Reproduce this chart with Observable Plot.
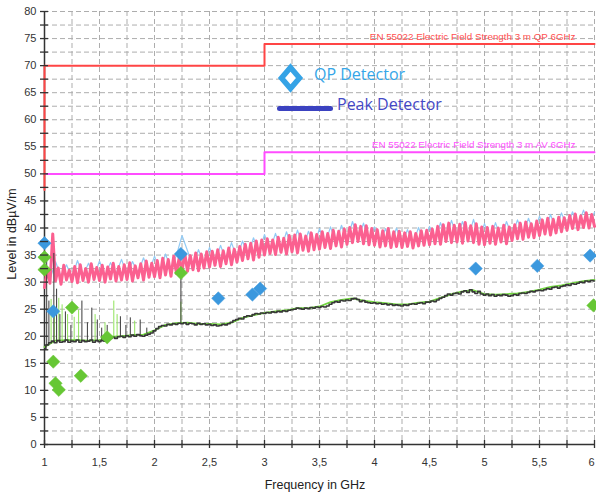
<!DOCTYPE html>
<html>
<head>
<meta charset="utf-8">
<script src="https://cdn.jsdelivr.net/npm/d3@7"></script>
<script src="https://cdn.jsdelivr.net/npm/@observablehq/plot@0.6"></script>
<style>
  html, body { margin: 0; padding: 0; background: #fff; }
  #wrap { position: relative; width: 596px; height: 495px; overflow: hidden; }
  .ov { position: absolute; white-space: nowrap; }
</style>
</head>
<body>
<div id="wrap">
  <div id="chart"></div>
  <div class="ov" id="ytitle" style="left:12px; top:234px; transform:translate(-50%,-50%) rotate(-90deg); font:12.5px 'Liberation Sans Narrow','Liberation Sans',Arial,sans-serif; color:#222;">Level in dBµV/m</div>
  <div class="ov" id="xtitle" style="left:315px; top:485px; transform:translate(-50%,-50%); font:12.5px 'Liberation Sans Narrow','Liberation Sans',Arial,sans-serif; color:#222;">Frequency in GHz</div>
  <svg class="ov" style="left:277px; top:63px;" width="27" height="30"><polygon points="13.5,4.5 22.5,15 13.5,25.5 4.5,15" fill="#fff" stroke="#35a3e6" stroke-width="5.5" stroke-linejoin="miter"/></svg>
  <div class="ov" style="left:314px; top:65px; font:16px 'Open Sans','Noto Sans',sans-serif; line-height:18px; color:#35a6e8;">QP Detector</div>
  <div class="ov" style="left:277px; top:106px; width:56px; height:5px; border-radius:3px; background:#3b42c0;"></div>
  <div class="ov" style="left:337px; top:95px; font:16px 'Open Sans','Noto Sans',sans-serif; line-height:18px; color:#4448c6;">Peak Detector</div>
</div>
<script>
// ---------- data ----------
const xMajorTicks = [1, 1.5, 2, 2.5, 3, 3.5, 4, 4.5, 5, 5.5, 6];
const xMinorTicks = [1, 1.25, 1.5, 1.75, 2, 2.25, 2.5, 2.75, 3, 3.25, 3.5, 3.75, 4, 4.25, 4.5, 4.75, 5, 5.25, 5.5, 5.75, 6];
const yMajorTicks = [0, 5, 10, 15, 20, 25, 30, 35, 40, 45, 50, 55, 60, 65, 70, 75, 80];
const yMinorTicks = [0, 2.5, 5, 7.5, 10, 12.5, 15, 17.5, 20, 22.5, 25, 27.5, 30, 32.5, 35, 37.5, 40, 42.5, 45, 47.5, 50, 52.5, 55, 57.5, 60, 62.5, 65, 67.5, 70, 72.5, 75, 77.5, 80];

const qpLimitFreq = [1, 1, 3, 3, 6];
const qpLimitLevel = [47, 70, 70, 74, 74];
const qpLimitLabel = "EN 55022 Electric Field Strength 3 m QP 6GHz";
const avLimitFreq = [1, 3, 3, 6];
const avLimitLevel = [50, 50, 54, 54];
const avLimitLabel = "EN 55022 Electric Field Strength 3 m AV 6GHz";

// swept traces (start frequency and step of each sweep, level readings)
const sweepStartGHz = 1;
const pinkStepGHz = 0.025;
const pinkLevels = [
  29.0, 32.4, 29.8, 38.9, 30.2, 32.6, 29.6, 33.1, 30.4, 32.2,
  30.1, 32.9, 29.9, 33.2, 30.3, 32.5, 30.0, 33.4, 30.5, 32.7,
  30.3, 33.1, 30.0, 32.8, 30.6, 33.5, 30.2, 32.9, 30.4, 33.2,
  30.5, 33.6, 30.2, 33.0, 30.8, 33.4, 30.4, 33.9, 30.9, 33.5,
  31.0, 34.0, 30.8, 34.4, 31.3, 34.2, 31.1, 34.8, 31.6, 34.6,
  31.9, 35.3, 32.0, 34.9, 32.3, 35.4, 32.1, 35.2, 32.6, 35.6,
  32.8, 35.7, 33.1, 36.0, 32.9, 35.8, 33.4, 36.3, 33.2, 36.1,
  33.7, 36.6, 34.0, 37.0, 34.3, 37.2, 34.1, 37.6, 34.6, 37.8,
  35.0, 38.0, 35.3, 37.8, 35.1, 38.3, 35.5, 38.1, 35.2, 38.6,
  35.6, 38.7, 35.4, 38.9, 35.9, 38.5, 35.7, 39.1, 36.0, 38.8,
  36.1, 39.3, 36.4, 39.0, 36.2, 39.6, 36.7, 39.4, 36.5, 39.8,
  37.0, 40.1, 37.3, 40.6, 37.5, 40.3, 37.1, 40.4, 36.9, 39.9,
  36.8, 39.7, 36.5, 39.5, 36.7, 39.9, 36.4, 39.3, 36.6, 39.4,
  36.4, 39.1, 36.6, 39.3, 36.3, 39.0, 36.7, 39.5, 36.8, 39.6,
  36.9, 39.8, 37.1, 40.3, 37.0, 40.6, 37.5, 40.9, 37.3, 40.5,
  37.4, 40.7, 37.2, 41.0, 37.6, 40.4, 37.3, 40.8, 37.0, 40.2,
  36.9, 40.1, 37.2, 40.3, 37.0, 40.0, 37.4, 40.5, 37.1, 40.2,
  37.7, 40.6, 38.0, 40.9, 37.9, 41.1, 38.3, 40.8, 38.2, 41.3,
  38.6, 41.5, 38.9, 41.8, 38.7, 41.6, 39.1, 42.0, 39.3, 41.9,
  39.6, 42.3, 39.9, 42.6, 39.7, 42.2, 40.1, 42.8, 40.0, 42.5,
  40.3
];
const blueStepGHz = 0.05;
const blueLevels = [
  33.0, 30.5, 33.8, 31.0, 33.2, 30.8, 34.0, 31.2, 33.5, 31.0,
  33.9, 31.2, 33.6, 31.5, 34.2, 31.3, 33.8, 31.6, 34.5, 31.8,
  34.8, 32.0, 35.2, 32.4, 35.0, 38.6, 35.8, 33.0, 36.0, 33.2,
  36.4, 33.6, 36.8, 34.0, 37.3, 34.4, 37.6, 35.0, 38.2, 35.4,
  38.8, 35.8, 39.0, 36.0, 39.3, 36.2, 39.6, 36.4, 39.4, 36.5,
  39.9, 36.9, 40.2, 37.2, 40.5, 37.6, 41.2, 37.8, 40.9, 37.5,
  40.2, 37.2, 39.9, 37.0, 40.0, 37.1, 39.7, 37.0, 40.1, 37.3,
  40.3, 37.6, 41.0, 38.0, 41.4, 38.2, 41.2, 38.0, 41.6, 37.9,
  40.8, 37.8, 41.0, 38.0, 41.2, 38.5, 41.5, 38.7, 41.8, 39.0,
  42.2, 39.3, 42.5, 39.7, 42.8, 40.1, 43.0, 40.4, 43.3, 40.6,
  42.9
];
const darkStepGHz = 0.025;
const darkLevels = [
  17.6, 18.4, 18.8, 19.1, 18.8, 19.2, 18.9, 19.0, 19.3, 18.9,
  19.1, 19.0, 19.3, 18.9, 19.2, 19.0, 19.1, 19.3, 18.9, 19.2,
  19.0, 19.2, 19.1, 19.4, 19.6, 19.8, 19.6, 19.9, 20.0, 19.8,
  20.1, 19.9, 20.2, 20.0, 20.3, 20.1, 20.0, 20.2, 20.4, 20.6,
  21.0, 21.4, 21.8, 22.0, 21.9, 22.2, 22.1, 22.3, 22.2, 22.4,
  22.3, 22.5, 22.2, 22.4, 22.3, 22.1, 22.4, 22.2, 22.3, 22.1,
  22.2, 22.0, 22.1, 21.9, 22.0, 22.2, 22.1, 22.3, 22.6, 22.9,
  23.1, 23.3, 23.2, 23.6, 23.8, 23.7, 24.0, 24.2, 24.1, 24.3,
  24.2, 24.4, 24.3, 24.5, 24.4, 24.6, 24.5, 24.7, 24.6, 24.8,
  24.9, 25.0, 25.2, 25.1, 25.0, 25.2, 25.1, 25.3, 25.2, 25.4,
  25.3, 25.5, 25.4, 25.6, 25.9, 26.2, 26.4, 26.3, 26.6, 26.5,
  26.7, 26.6, 26.9, 27.0, 26.8, 26.4, 26.6, 26.3, 26.2, 26.1,
  26.2, 26.0, 26.1, 25.9, 26.0, 25.8, 25.9, 25.7, 25.8, 25.7,
  25.6, 25.8, 25.7, 25.9, 26.0, 25.9, 26.1, 26.2, 26.0, 26.3,
  26.3, 26.5, 26.4, 26.7, 27.0, 27.2, 27.5, 27.8, 27.6, 27.9,
  28.0, 27.8, 28.2, 28.4, 28.1, 28.6, 28.2, 27.9, 28.3, 27.8,
  27.6, 27.8, 27.5, 27.7, 27.4, 27.6, 27.5, 27.7, 27.6, 27.4,
  27.5, 27.7, 27.6, 27.9, 28.0, 27.9, 28.1, 28.3, 28.2, 28.4,
  28.5, 28.4, 28.6, 28.8, 28.7, 29.0, 29.1, 28.9, 29.2, 29.3,
  29.5, 29.4, 29.7, 29.6, 29.8, 30.0, 29.9, 30.2, 30.1, 30.3,
  30.2
];
const greenStepGHz = 0.1;
const greenLevels = [
  18.0, 19.2, 19.3, 19.3, 19.2, 19.3, 19.9, 20.0, 20.2, 20.3,
  21.1, 22.1, 22.4, 22.5, 22.3, 22.3, 22.2, 22.5, 23.4, 23.9,
  24.3, 24.6, 24.8, 25.2, 25.2, 25.5, 26.3, 26.7, 27.0, 26.6,
  26.3, 26.1, 25.9, 25.9, 26.2, 26.4, 27.1, 27.8, 28.3, 28.5,
  27.8, 27.7, 27.8, 27.9, 28.2, 28.6, 29.1, 29.4, 29.8, 30.2,
  30.4
];

// narrow spikes on the low traces
const darkSpikeFreq = [1.02, 1.04, 1.085, 1.11, 1.14, 1.19, 1.24, 1.34, 1.39, 1.43, 1.48, 1.52, 1.57, 1.69, 1.74, 1.78, 1.87, 1.93, 2.24];
const darkSpikeTop  = [34.0, 26.5, 35.3, 28.7, 24.0, 24.5, 22.0, 26.5, 22.5, 25.2, 23.0, 21.5, 22.0, 23.6, 22.0, 23.4, 23.0, 21.5, 31.5];
const darkSpikeBase = [18.2, 18.6, 18.9, 18.9, 19.0, 19.0, 19.0, 19.1, 19.0, 19.1, 19.0, 19.1, 19.3, 19.8, 20.0, 20.1, 20.1, 20.4, 22.3];
const greenSpikeFreq = [1.06, 1.09, 1.13, 1.16, 1.21, 1.27, 1.31, 1.46, 1.55, 1.63, 1.66, 1.82, 2.24];
const greenSpikeTop  = [26.8, 25.5, 27.0, 25.8, 24.0, 23.5, 24.8, 24.0, 22.5, 26.5, 24.0, 22.8, 26.3];
const greenSpikeBase = [18.8, 18.9, 19.0, 19.0, 19.0, 19.1, 19.1, 19.1, 19.2, 19.6, 19.7, 20.1, 22.3];

// detector readings (diamonds)
const qpFreq  = [1.0, 1.08, 2.24, 2.58, 2.89, 2.96, 4.92, 5.48, 5.96];
const qpLevel = [37.2, 24.6, 35.2, 27.0, 27.7, 28.8, 32.5, 33.0, 34.9];
const avFreq  = [1.0, 1.0, 1.08, 1.1, 1.13, 1.25, 1.33, 1.57, 2.24, 5.99];
const avLevel = [34.6, 32.3, 15.3, 11.3, 10.1, 25.3, 12.7, 19.8, 31.7, 25.7];

// ---------- build ----------
const sweep = (levels, step) => levels.map((v, i) => ({f: sweepStartGHz + i * step, v}));
const pts = (fs, vs) => fs.map((f, i) => ({f, v: vs[i]}));
const spikes = (fs, tops, bases) => fs.map((f, i) => ({f, top: tops[i], base: bases[i]}));
const comma = d => String(d).replace(".", ",");
const narrow = "'Liberation Sans Narrow','Liberation Sans',Arial,sans-serif";
const lastOf = a => a[a.length - 1];

const chart = Plot.plot({
  width: 596,
  height: 495,
  marginLeft: 44,
  marginRight: 2,
  marginTop: 11,
  marginBottom: 51,
  x: {domain: [1, 6]},
  y: {domain: [0, 80]},
  style: {fontFamily: narrow, fontSize: "11px", color: "#333", background: "#fff"},
  marks: [
    Plot.gridX(xMinorTicks, {stroke: "#adadad", strokeOpacity: 1, strokeDasharray: "5,3"}),
    Plot.gridY(yMinorTicks, {stroke: "#adadad", strokeOpacity: 1, strokeDasharray: "5,3"}),

    Plot.ruleX([1], {stroke: "#333", strokeWidth: 1.5}),
    Plot.ruleY([0], {stroke: "#333", strokeWidth: 1.5}),

    Plot.line(pts(avLimitFreq, avLimitLevel), {x: "f", y: "v", stroke: "#ff4cff", strokeWidth: 2}),
    Plot.line(pts(qpLimitFreq, qpLimitLevel), {x: "f", y: "v", stroke: "#ff4545", strokeWidth: 2}),
    Plot.text([qpLimitLabel], {x: () => lastOf(qpLimitFreq), y: () => lastOf(qpLimitLevel), text: d => d,
      textAnchor: "end", lineAnchor: "bottom", dx: -19, dy: -4, fill: "#ff5050", fontSize: 9.8, fontFamily: "'Liberation Sans',Arial,sans-serif"}),
    Plot.text([avLimitLabel], {x: () => lastOf(avLimitFreq), y: () => lastOf(avLimitLevel), text: d => d,
      textAnchor: "end", lineAnchor: "bottom", dx: -19, dy: -4, fill: "#ff50ff", fontSize: 9.8, fontFamily: "'Liberation Sans',Arial,sans-serif"}),

    Plot.line(sweep(blueLevels, blueStepGHz), {x: "f", y: "v", stroke: "#92cbf5", strokeWidth: 1.2}),
    Plot.line(sweep(pinkLevels, pinkStepGHz), {x: "f", y: "v", stroke: "#fb6090", strokeWidth: 3, strokeLinejoin: "round"}),

    Plot.ruleX(spikes(greenSpikeFreq, greenSpikeTop, greenSpikeBase), {x: "f", y1: "base", y2: "top", stroke: "#8fe35a", strokeWidth: 1}),
    Plot.line(sweep(greenLevels, greenStepGHz), {x: "f", y: "v", stroke: "#72d640", strokeWidth: 1.8}),
    Plot.ruleX(spikes(darkSpikeFreq, darkSpikeTop, darkSpikeBase), {x: "f", y1: "base", y2: "top", stroke: "#3a3a3a", strokeWidth: 1}),
    Plot.line(sweep(darkLevels, darkStepGHz), {x: "f", y: "v", curve: "step", stroke: "#383838", strokeWidth: 1.6}),

    Plot.dot(pts(qpFreq, qpLevel), {x: "f", y: "v", symbol: "diamond2", r: 6, fill: "#3b98de", stroke: "#3b98de", strokeWidth: 0.5}),
    Plot.dot(pts(avFreq, avLevel), {x: "f", y: "v", symbol: "diamond2", r: 6, fill: "#66c734", stroke: "#66c734", strokeWidth: 0.5}),

    Plot.axisY({ticks: yMinorTicks, tickSize: 8, dx: 4, fill: "none", stroke: "#333", strokeWidth: 1.3, label: null}),
    Plot.axisY({ticks: yMajorTicks, tickSize: 0, tickPadding: 8, fill: "#333", fontSize: 11, label: null}),
    Plot.axisX({ticks: xMinorTicks, tickSize: 8, dy: -4, fill: "none", stroke: "#333", strokeWidth: 1.3, label: null}),
    Plot.axisX({ticks: xMajorTicks.slice(0, -1), tickSize: 0, tickPadding: 14, tickFormat: comma, fill: "#333", fontSize: 11, label: null}),
    Plot.axisX({ticks: xMajorTicks.slice(-1), tickSize: 0, tickPadding: 14, tickFormat: comma, dx: -3, fill: "#333", fontSize: 11, label: null})
  ]
});
document.getElementById("chart").appendChild(chart);
</script>
</body>
</html>
